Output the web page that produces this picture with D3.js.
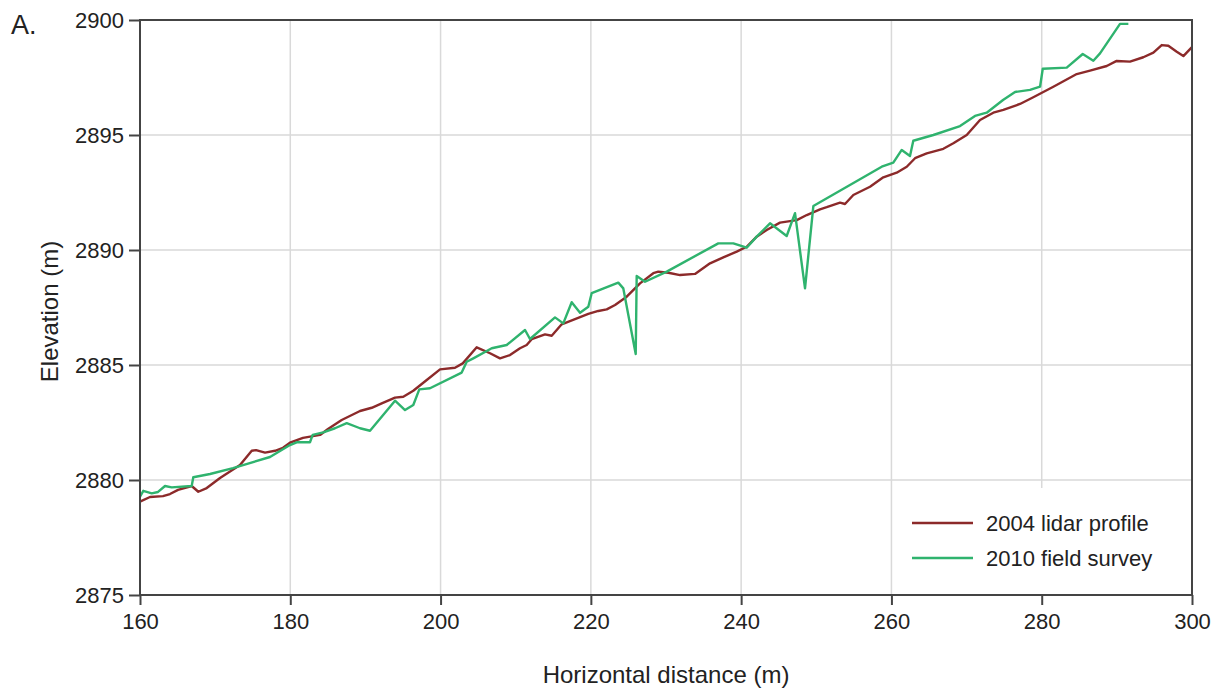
<!DOCTYPE html>
<html>
<head>
<meta charset="utf-8">
<script src="https://cdn.jsdelivr.net/npm/d3@7"></script>
<style>
  body { margin: 0; background: #fff; }
  svg { font-family: "Liberation Sans", Arial, Helvetica, sans-serif; }
  .grid line { stroke: #d9d9d9; stroke-width: 1.5; }
  .axis text { fill: #222; font-size: 22px; }
  .axis line { stroke: #444; stroke-width: 2; }
  .axis path { display: none; }
  .line { fill: none; stroke-width: 2.4; stroke-linejoin: round; }
</style>
</head>
<body>
<svg width="1219" height="696"></svg>
<script>
// distance (m), elevation (m)
var lidar = [
  [160.0, 2879.06], [161.33, 2879.26], [163.06, 2879.30], [163.99, 2879.39], [165.06, 2879.57],
  [166.88, 2879.74], [167.76, 2879.49], [168.88, 2879.65], [170.65, 2880.09], [173.31, 2880.65],
  [174.87, 2881.27], [175.44, 2881.30], [176.64, 2881.19], [177.97, 2881.27], [179.03, 2881.40],
  [179.96, 2881.62], [181.69, 2881.83], [183.02, 2881.91], [183.96, 2881.96], [185.02, 2882.22],
  [186.84, 2882.61], [189.28, 2883.00], [190.84, 2883.14], [192.17, 2883.33], [193.94, 2883.58],
  [195.04, 2883.62], [196.37, 2883.88], [198.16, 2884.35], [199.93, 2884.81], [201.92, 2884.88],
  [202.95, 2885.07], [204.81, 2885.77], [206.58, 2885.51], [207.91, 2885.29], [209.24, 2885.43],
  [210.57, 2885.73], [211.46, 2885.87], [212.13, 2886.12], [213.90, 2886.33], [214.79, 2886.27],
  [216.12, 2886.77], [217.89, 2886.99], [219.66, 2887.22], [220.99, 2887.35], [222.11, 2887.42],
  [223.22, 2887.61], [224.77, 2887.97], [226.54, 2888.55], [228.31, 2888.99], [228.98, 2889.06],
  [230.31, 2889.01], [231.87, 2888.91], [233.86, 2888.96], [235.86, 2889.42], [237.63, 2889.68],
  [239.41, 2889.93], [240.74, 2890.14], [242.07, 2890.58], [243.40, 2890.87], [245.17, 2891.19],
  [247.40, 2891.30], [248.73, 2891.52], [250.50, 2891.77], [251.39, 2891.86], [253.16, 2892.06],
  [253.82, 2892.00], [254.93, 2892.39], [257.15, 2892.75], [258.92, 2893.16], [260.70, 2893.36],
  [262.04, 2893.62], [263.14, 2893.99], [264.70, 2894.20], [266.91, 2894.40], [268.24, 2894.64],
  [270.02, 2895.00], [271.79, 2895.65], [273.56, 2895.97], [274.89, 2896.09], [277.11, 2896.35],
  [278.88, 2896.64], [281.55, 2897.10], [284.66, 2897.65], [286.43, 2897.80], [288.65, 2898.00],
  [289.98, 2898.22], [291.75, 2898.19], [293.52, 2898.38], [294.86, 2898.58], [295.97, 2898.91],
  [296.85, 2898.88], [297.97, 2898.62], [298.85, 2898.43], [299.96, 2898.81]
];

var survey = [
  [160.0, 2879.27], [160.44, 2879.53], [161.56, 2879.42], [162.40, 2879.48], [163.33, 2879.74],
  [164.22, 2879.68], [166.88, 2879.74], [167.09, 2880.12], [169.32, 2880.26], [172.38, 2880.52],
  [177.30, 2881.00], [179.96, 2881.52], [180.85, 2881.64], [182.62, 2881.64], [182.98, 2881.96],
  [184.39, 2882.07], [185.95, 2882.25], [187.51, 2882.47], [189.28, 2882.25], [190.61, 2882.14],
  [193.94, 2883.45], [195.27, 2883.04], [196.37, 2883.26], [197.17, 2883.94], [198.59, 2883.99],
  [202.81, 2884.67], [203.48, 2885.14], [204.36, 2885.29], [206.81, 2885.73], [208.80, 2885.87],
  [211.24, 2886.52], [211.90, 2886.13], [215.23, 2887.07], [216.33, 2886.81], [217.45, 2887.73],
  [218.56, 2887.27], [219.66, 2887.53], [220.11, 2888.12], [223.65, 2888.58], [224.32, 2888.33],
  [225.97, 2885.48], [226.10, 2888.87], [227.21, 2888.62], [230.10, 2889.06], [236.96, 2890.29],
  [238.96, 2890.29], [240.74, 2890.10], [242.07, 2890.58], [243.84, 2891.16], [246.06, 2890.61],
  [247.17, 2891.60], [248.50, 2888.33], [249.61, 2891.91], [258.71, 2893.62], [260.25, 2893.80],
  [261.37, 2894.35], [262.47, 2894.09], [262.91, 2894.75], [265.58, 2895.00], [269.13, 2895.39],
  [271.12, 2895.83], [272.68, 2895.97], [274.85, 2896.52], [276.45, 2896.87], [278.44, 2896.96],
  [279.78, 2897.10], [280.14, 2897.88], [283.33, 2897.93], [285.46, 2898.52], [286.87, 2898.23],
  [287.76, 2898.55], [290.42, 2899.83], [291.53, 2899.83]
];

var xTicks = [160, 180, 200, 220, 240, 260, 280, 300];
var yTicks = [2875, 2880, 2885, 2890, 2895, 2900];
var seriesNames = ["2004 lidar profile", "2010 field survey"];
var seriesColors = ["#8c2a2a", "#2fb36e"];

var svg = d3.select("svg");
var margin = {top: 20, right: 27, bottom: 101, left: 140};
var width = svg.attr("width") - margin.left - margin.right;
var height = svg.attr("height") - margin.top - margin.bottom;
var g = svg.append("g").attr("transform", "translate(" + margin.left + "," + margin.top + ")");

var x = d3.scaleLinear().domain([160, 300]).range([0, width]);
var y = d3.scaleLinear().domain([2875, 2900]).range([height, 0]);

// grid
g.append("g").attr("class", "grid")
  .selectAll("line").data(xTicks.slice(1, -1))
  .enter().append("line")
    .attr("x1", function(d) { return x(d); })
    .attr("x2", function(d) { return x(d); })
    .attr("y1", 0).attr("y2", height);
g.append("g").attr("class", "grid")
  .selectAll("line").data(yTicks.slice(1, -1))
  .enter().append("line")
    .attr("x1", 0).attr("x2", width)
    .attr("y1", function(d) { return y(d); })
    .attr("y2", function(d) { return y(d); });

// legend box sits over the grid
var legX = 760, legY = 468;
g.append("rect")
  .attr("x", legX).attr("y", legY)
  .attr("width", width - legX).attr("height", height - legY)
  .attr("fill", "#fff");

var line = d3.line()
  .x(function(d) { return x(d[0]); })
  .y(function(d) { return y(d[1]); });

[lidar, survey].forEach(function(data, i) {
  g.append("path")
    .attr("class", "line")
    .attr("d", line(data))
    .style("stroke", seriesColors[i]);
});

// axes
g.append("g")
  .attr("class", "axis")
  .attr("transform", "translate(0," + height + ")")
  .call(d3.axisBottom(x).tickValues(xTicks).tickSize(10).tickPadding(8).tickFormat(d3.format("d")));
g.append("g")
  .attr("class", "axis")
  .call(d3.axisLeft(y).tickValues(yTicks).tickSize(11).tickPadding(5).tickFormat(d3.format("d")))
  .selectAll("text").attr("dy", "0.36em");

// frame
g.append("rect")
  .attr("width", width).attr("height", height)
  .attr("fill", "none").attr("stroke", "#444").attr("stroke-width", 2);

// legend
var leg = g.selectAll(".leg").data(seriesNames)
  .enter().append("g")
    .attr("class", "leg")
    .attr("transform", function(d, i) { return "translate(" + (legX + 12) + "," + (legY + 35 + i * 35) + ")"; });
leg.append("line")
  .attr("x1", 0).attr("x2", 61)
  .attr("stroke-width", 2.4)
  .attr("stroke", function(d, i) { return seriesColors[i]; });
leg.append("text")
  .attr("x", 74).attr("dy", "0.36em")
  .style("font-size", "22px").attr("fill", "#222")
  .text(function(d) { return d; });

// titles
svg.append("text")
  .attr("x", margin.left + width / 2).attr("y", 683)
  .attr("text-anchor", "middle").style("font-size", "24px").attr("fill", "#222")
  .text("Horizontal distance (m)");
svg.append("text")
  .attr("transform", "translate(58," + (margin.top + height / 2 + 4) + ") rotate(-90)")
  .attr("text-anchor", "middle").style("font-size", "24px").attr("fill", "#222")
  .text("Elevation (m)");
svg.append("text")
  .attr("x", 11).attr("y", 34)
  .style("font-size", "27px").attr("fill", "#222")
  .text("A.");
</script>
</body>
</html>
